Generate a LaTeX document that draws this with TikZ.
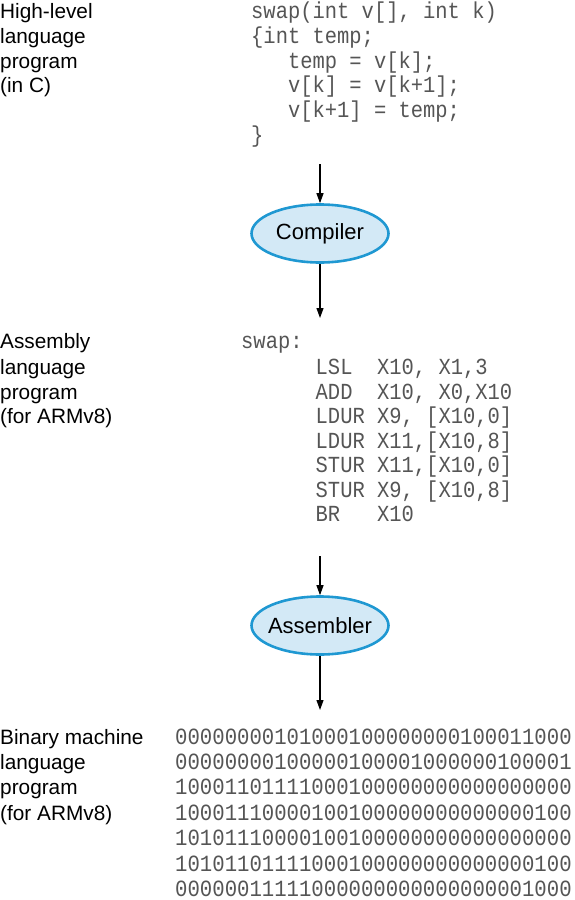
\documentclass[tikz,border=0pt]{standalone}
\usepackage{fontspec}
\setmainfont{Liberation Sans}
\newfontfamily\codefont[FakeStretch=0.89]{Liberation Mono}
\usetikzlibrary{shapes.geometric,arrows.meta}
\definecolor{codegray}{HTML}{555555}
\definecolor{toolblue}{HTML}{1F98D2}
\definecolor{toolfill}{HTML}{D3E9F6}
\begin{document}
\begin{tikzpicture}[x=1pt,y=-1pt,
  lbl/.style={anchor=base west, inner sep=0pt, font=\fontsize{20.8}{25}\selectfont},
  code/.style={anchor=base west, inner sep=0pt, text=codegray, font=\codefont\fontsize{23}{25}\selectfont},
  bin/.style={anchor=base west, inner sep=0pt, text=codegray, font=\codefont\fontsize{23.2}{25}\selectfont},
  tool/.style={ellipse, draw=toolblue, line width=2.6pt, fill=toolfill, minimum width=137pt, minimum height=58pt, inner sep=0pt, font=\fontsize{22}{26}\selectfont},
  flow/.style={-{Triangle[length=10pt,width=7pt]}, line width=1.1pt}
]
\useasboundingbox (0,0) rectangle (574,900);

% labels
\foreach \t [count=\i] in {High-level, language, program, (in C)}
  \node[lbl] (hl\i) at (0,{18.5+24.8*(\i-1)}) {\t};
\foreach \t [count=\i] in {Assembly, language, program, (for ARMv8)}
  \node[lbl] (al\i) at (0,{\i==1 ? 348 : 374.5+24.5*(\i-2)}) {\t};
\foreach \t [count=\i] in {Binary machine, language, program, (for ARMv8)}
  \node[lbl] (bl\i) at (0,{744+25.45*(\i-1)}) {\t};

% C code
\foreach \t [count=\i] in {{swap(int v[], int k)}, {\{int temp;}, {\ \ \ temp = v[k];}, {\ \ \ v[k] = v[k+1];}, {\ \ \ v[k+1] = temp;}, {\}}}
  \node[code] (cc\i) at (251,{18.5+24.8*(\i-1)}) {\t};

% assembly
\node[code] (as0) at (241,348) {swap:};
\foreach \t [count=\i] in {{LSL\ \ X10, X1,3}, {ADD\ \ X10, X0,X10}, {LDUR X9, [X10,0]}, {LDUR X11,[X10,8]}, {STUR X11,[X10,0]}, {STUR X9, [X10,8]}, {BR\ \ \ X10}}
  \node[code] (as\i) at (315.5,{374.5+24.5*(\i-1)}) {\t};

% binary
\foreach \t [count=\i] in {00000000101000100000000100011000, 00000000100000100001000000100001, 10001101111000100000000000000000, 10001110000100100000000000000100, 10101110000100100000000000000000, 10101101111000100000000000000100, 00000011111000000000000000001000}
  \node[bin] (bn\i) at (175,{744+25.45*(\i-1)}) {\t};

% tools
\node[tool] (comp) at (320,233.5) {\makebox[0pt]{Compiler}};
\node[tool] (asm) at (320,625.5) {\makebox[0pt]{Assembler}};

\coordinate (a1) at (320,164);
\coordinate (a2) at (320,318);
\coordinate (a3) at (320,556);
\coordinate (a4) at (320,710);
\draw[flow] (a1) -- (comp.north);
\draw[flow] (comp.south) -- (a2);
\draw[flow] (a3) -- (asm.north);
\draw[flow] (asm.south) -- (a4);
\end{tikzpicture}
\end{document}
